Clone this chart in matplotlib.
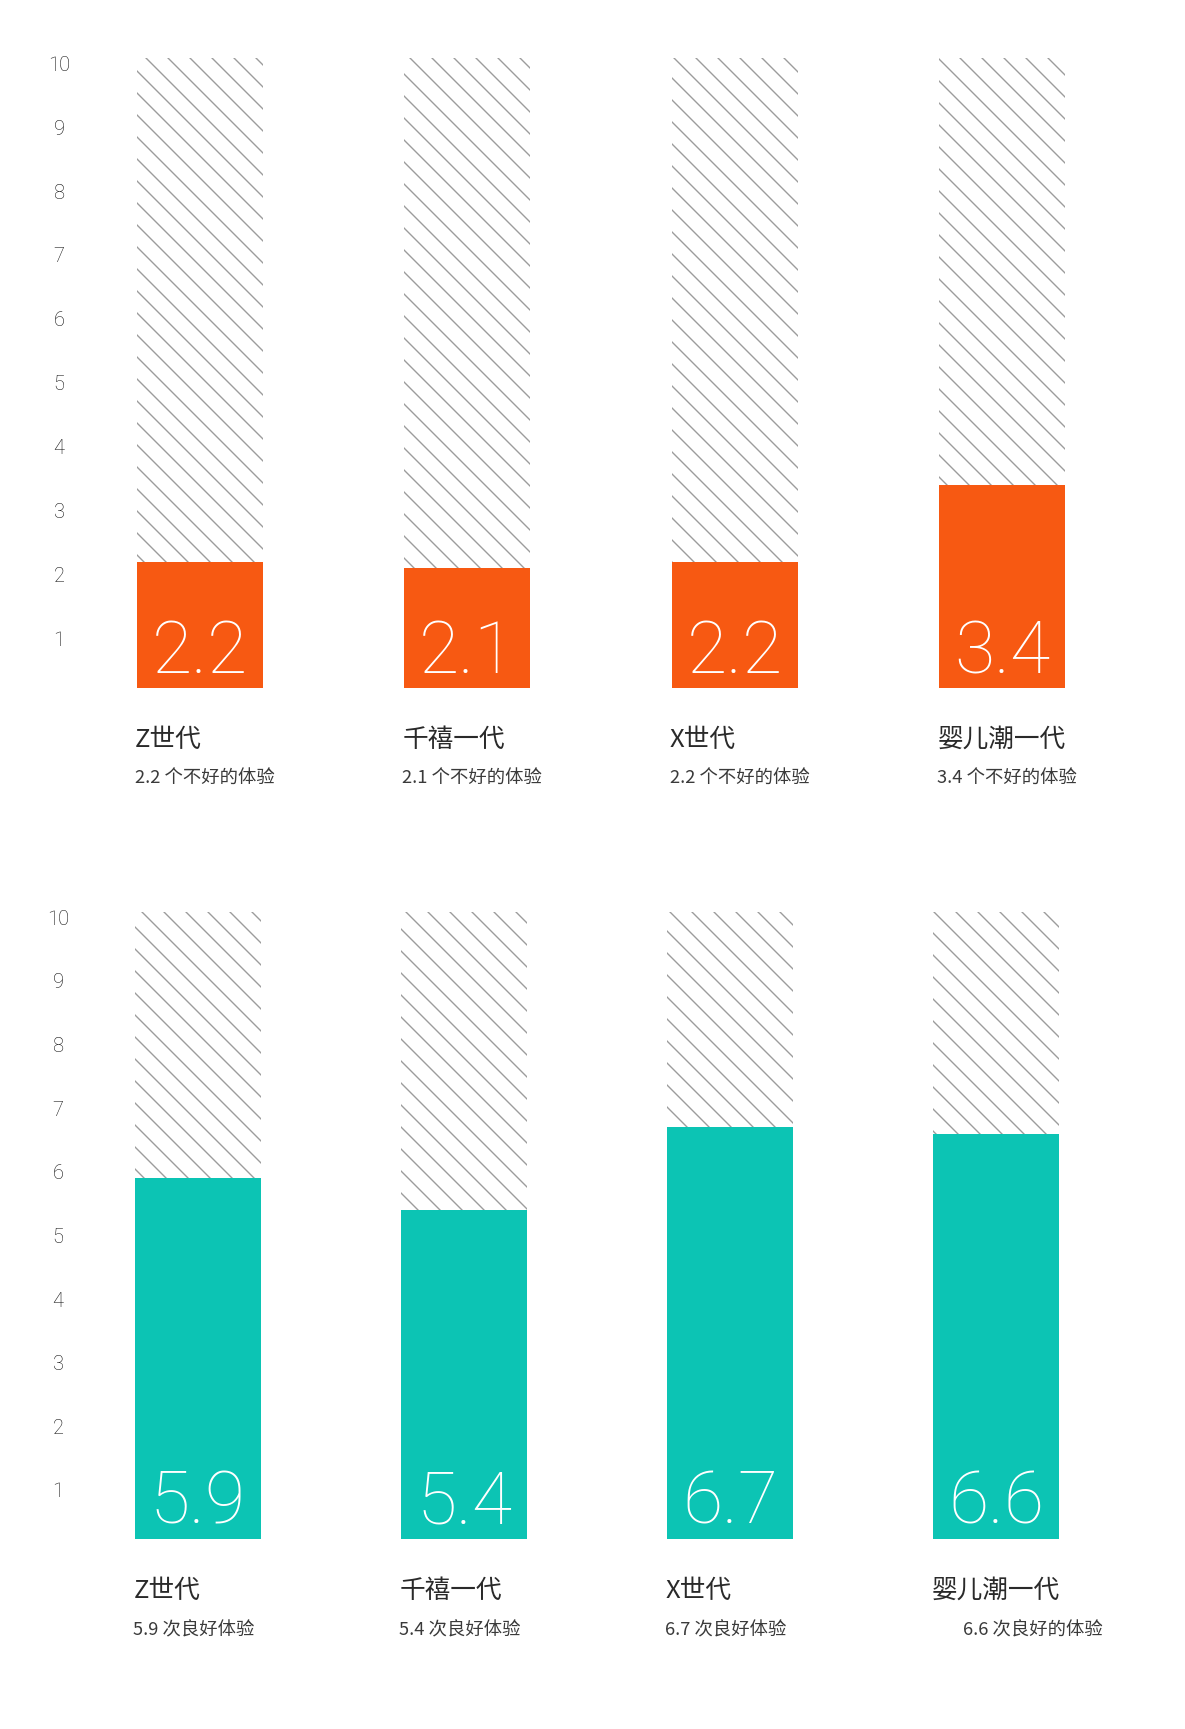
import matplotlib
matplotlib.use('Agg')
import matplotlib.pyplot as plt

# data
generations = ['Z世代', '千禧一代', 'X世代', '婴儿潮一代']
bad_values = [2.2, 2.1, 2.2, 3.4]
good_values = [5.9, 5.4, 6.7, 6.6]
bad_labels = ['2.2 个不好的体验', '2.1 个不好的体验', '2.2 个不好的体验', '3.4 个不好的体验']
good_labels = ['5.9 次良好体验', '5.4 次良好体验', '6.7 次良好体验', '6.6 次良好的体验']
ticks = [1, 2, 3, 4, 5, 6, 7, 8, 9, 10]

plt.rcParams['font.family'] = ['Noto Sans CJK SC', 'DejaVu Sans']
plt.rcParams['hatch.linewidth'] = 0.75

DPI = 132
ORANGE = '#F75912'
TEAL = '#0CC4B4'
HATCH = '#9c9c9c'
BAR_W = 0.471
NUM_FONT = ['Roboto', 'Noto Sans CJK SC']


def drawPanel(fig, rect, values, color, sublabels, sub_shift):
    ax = fig.add_axes(rect)
    ax.set_xlim(-0.5, 3.5)
    ax.set_ylim(0.23, 10.08)
    x = range(len(values))
    top = ax.get_ylim()[1]
    # hatched background columns
    ax.bar(x, [top] * len(values), width=BAR_W, color='white', edgecolor=HATCH,
           linewidth=0, hatch='\\\\', zorder=1)
    ax.bar(x, values, width=BAR_W, color=color, linewidth=0, zorder=2)
    for i, v in enumerate(values):
        ax.annotate('%.1f' % v, xy=(i, 0), xycoords=('data', 'axes fraction'),
                    xytext=(0, 15), textcoords='offset pixels', ha='center', va='baseline',
                    color='white', fontsize=40, family=NUM_FONT, fontweight='light')
        left = i - BAR_W / 2
        ax.annotate(generations[i], xy=(left, 0), xycoords=('data', 'axes fraction'),
                    xytext=(-2, -52), textcoords='offset pixels', ha='left', va='center',
                    color='#2a2a2a', fontsize=14)
        ax.annotate(sublabels[i], xy=(left, 0), xycoords=('data', 'axes fraction'),
                    xytext=(-2 + sub_shift[i], -91), textcoords='offset pixels', ha='left',
                    va='center', color='#3a3a3a', fontsize=10)
    ax.set_yticks(ticks)
    ax.set_yticklabels([str(t) for t in ticks], ha='center', color='#111111',
                       fontsize=11, family=NUM_FONT, fontweight='light')
    ax.tick_params(axis='y', length=0, pad=3.8)
    ax.set_xticks([])
    for s in ax.spines.values():
        s.set_visible(False)
    return ax


fig = plt.figure(figsize=(1185 / DPI, 1729 / DPI), dpi=DPI)
drawPanel(fig, [66 / 1185, 1 - 688 / 1729, 1070 / 1185, 630 / 1729],
          bad_values, ORANGE, bad_labels, [0, 0, 0, 0])
drawPanel(fig, [65 / 1185, 1 - 1539 / 1729, 1064 / 1185, 627 / 1729],
          good_values, TEAL, good_labels, [0, 0, 0, 32])
fig.savefig('out.png', dpi=DPI, facecolor='white')
